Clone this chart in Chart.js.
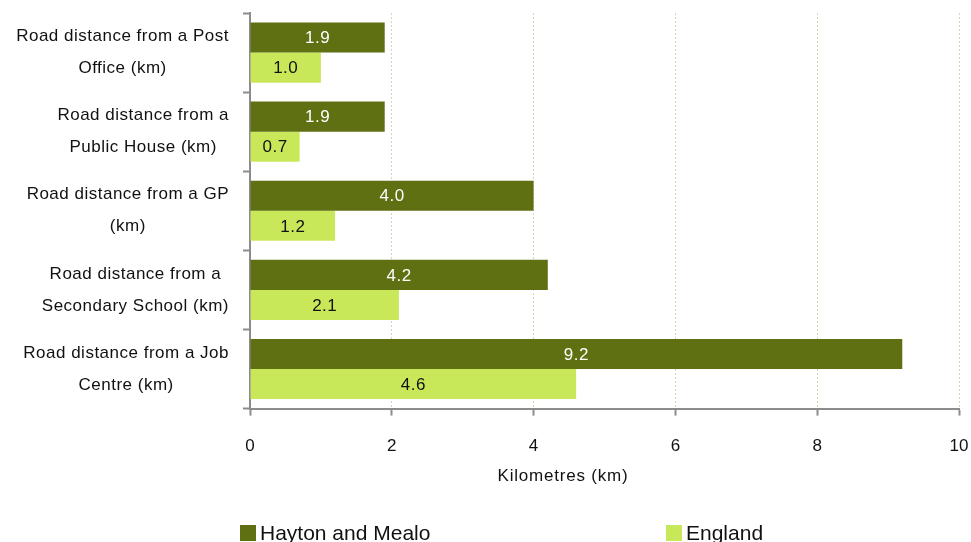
<!DOCTYPE html>
<html>
<head>
<meta charset="utf-8">
<script src="https://cdn.jsdelivr.net/npm/chart.js@4/dist/chart.umd.min.js"></script>
<style>
  html, body { margin: 0; padding: 0; background: #fff; }
  #wrap { width: 971px; height: 542px; }
</style>
</head>
<body>
<div id="wrap"><canvas id="chart"></canvas></div>
<script>
var categories = [
    ['Road distance from a Post', 'Office (km)'],
    ['Road distance from a', 'Public House (km)'],
    ['Road distance from a GP', '(km)'],
    ['Road distance from a', 'Secondary School (km)'],
    ['Road distance from a Job', 'Centre (km)']
];
var seriesNames = ['Hayton and Mealo', 'England'];
var haytonValues = [1.9, 1.9, 4.0, 4.2, 9.2];
var englandValues = [1.0, 0.7, 1.2, 2.1, 4.6];
var xTicks = [0, 2, 4, 6, 8, 10];

var darkGreen = '#5e7012';
var lightGreen = '#c8e85a';
var fontFamily = '"Liberation Sans", Arial, sans-serif';
var labelFont = '17px ' + fontFamily;

// centred two-line category labels, value labels in bars, and the legend
var customDraw = {
    id: 'customDraw',
    afterDraw: function (chart) {
        var ctx = chart.ctx;
        var yScale = chart.scales.y;
        var area = chart.chartArea;

        ctx.save();
        ctx.font = labelFont;
        ctx.letterSpacing = '0.5px';
        ctx.fillStyle = '#111';
        ctx.textAlign = 'center';
        ctx.textBaseline = 'middle';
        var right = area.left - 21;
        categories.forEach(function (lines, i) {
            var w = 0;
            lines.forEach(function (l) { w = Math.max(w, ctx.measureText(l).width); });
            var cx = right - w / 2;
            var cy = yScale.getPixelForTick(i);
            ctx.fillText(lines[0], cx, cy - 16);
            ctx.fillText(lines[1], cx, cy + 16);
        });

        chart.data.datasets.forEach(function (ds, di) {
            var meta = chart.getDatasetMeta(di);
            ctx.fillStyle = di === 0 ? '#ffffff' : '#111111';
            meta.data.forEach(function (bar, i) {
                ctx.fillText(ds.data[i].toFixed(1), (bar.x + bar.base) / 2, bar.y + 1);
            });
        });

        // legend
        ctx.font = '21px ' + fontFamily;
        ctx.letterSpacing = '0px';
        ctx.textAlign = 'left';
        var legendX = [area.left - 10, area.left + 416];
        [darkGreen, lightGreen].forEach(function (c, i) {
            ctx.fillStyle = c;
            ctx.fillRect(legendX[i], 525, 16, 16);
            ctx.fillStyle = '#111';
            ctx.fillText(seriesNames[i], legendX[i] + 20, 534);
        });

        // axis title, sits left of the plot centre in the original
        ctx.font = labelFont;
        ctx.letterSpacing = '0.8px';
        ctx.textAlign = 'center';
        ctx.fillText('Kilometres (km)', area.left + 313, 476);
        ctx.restore();
    }
};

new Chart(document.getElementById('chart'), {
    type: 'bar',
    data: {
        labels: categories,
        datasets: [{
            label: seriesNames[0],
            data: haytonValues,
            backgroundColor: darkGreen,
            categoryPercentage: 0.76,
            barPercentage: 1
        }, {
            label: seriesNames[1],
            data: englandValues,
            backgroundColor: lightGreen,
            categoryPercentage: 0.76,
            barPercentage: 1
        }]
    },
    options: {
        indexAxis: 'y',
        responsive: true,
        maintainAspectRatio: false,
        animation: false,
        layout: { padding: { left: 243, right: 0, top: 13, bottom: 33 } },
        plugins: {
            legend: { display: false },
            tooltip: { enabled: false }
        },
        scales: {
            x: {
                min: 0,
                max: 10,
                afterBuildTicks: function (scale) {
                    scale.ticks = xTicks.map(function (v) { return { value: v }; });
                },
                afterFit: function (scale) {
                    // the big tick padding would otherwise push the plot in from the right
                    scale.paddingRight = 12;
                },
                ticks: {
                    color: '#111',
                    font: { family: fontFamily, size: 17 },
                    padding: 21,
                    maxRotation: 0
                },
                grid: {
                    color: '#d9d4b4',
                    lineWidth: 1,
                    tickColor: '#8c8c8c',
                    tickLength: 7,
                    tickWidth: 2
                },
                border: { color: '#8c8c8c', width: 2, dash: [2, 2] },
                title: {
                    display: true,
                    text: 'Kilometres (km)',
                    color: 'transparent',
                    font: { family: fontFamily, size: 15 },
                    padding: { top: 13, bottom: 0 }
                }
            },
            y: {
                ticks: { display: false },
                grid: {
                    drawOnChartArea: false,
                    tickColor: '#8c8c8c',
                    tickLength: 7,
                    tickWidth: 2,
                    offset: true
                },
                border: { color: '#8c8c8c', width: 2 }
            }
        }
    },
    plugins: [customDraw]
});
</script>
</body>
</html>
